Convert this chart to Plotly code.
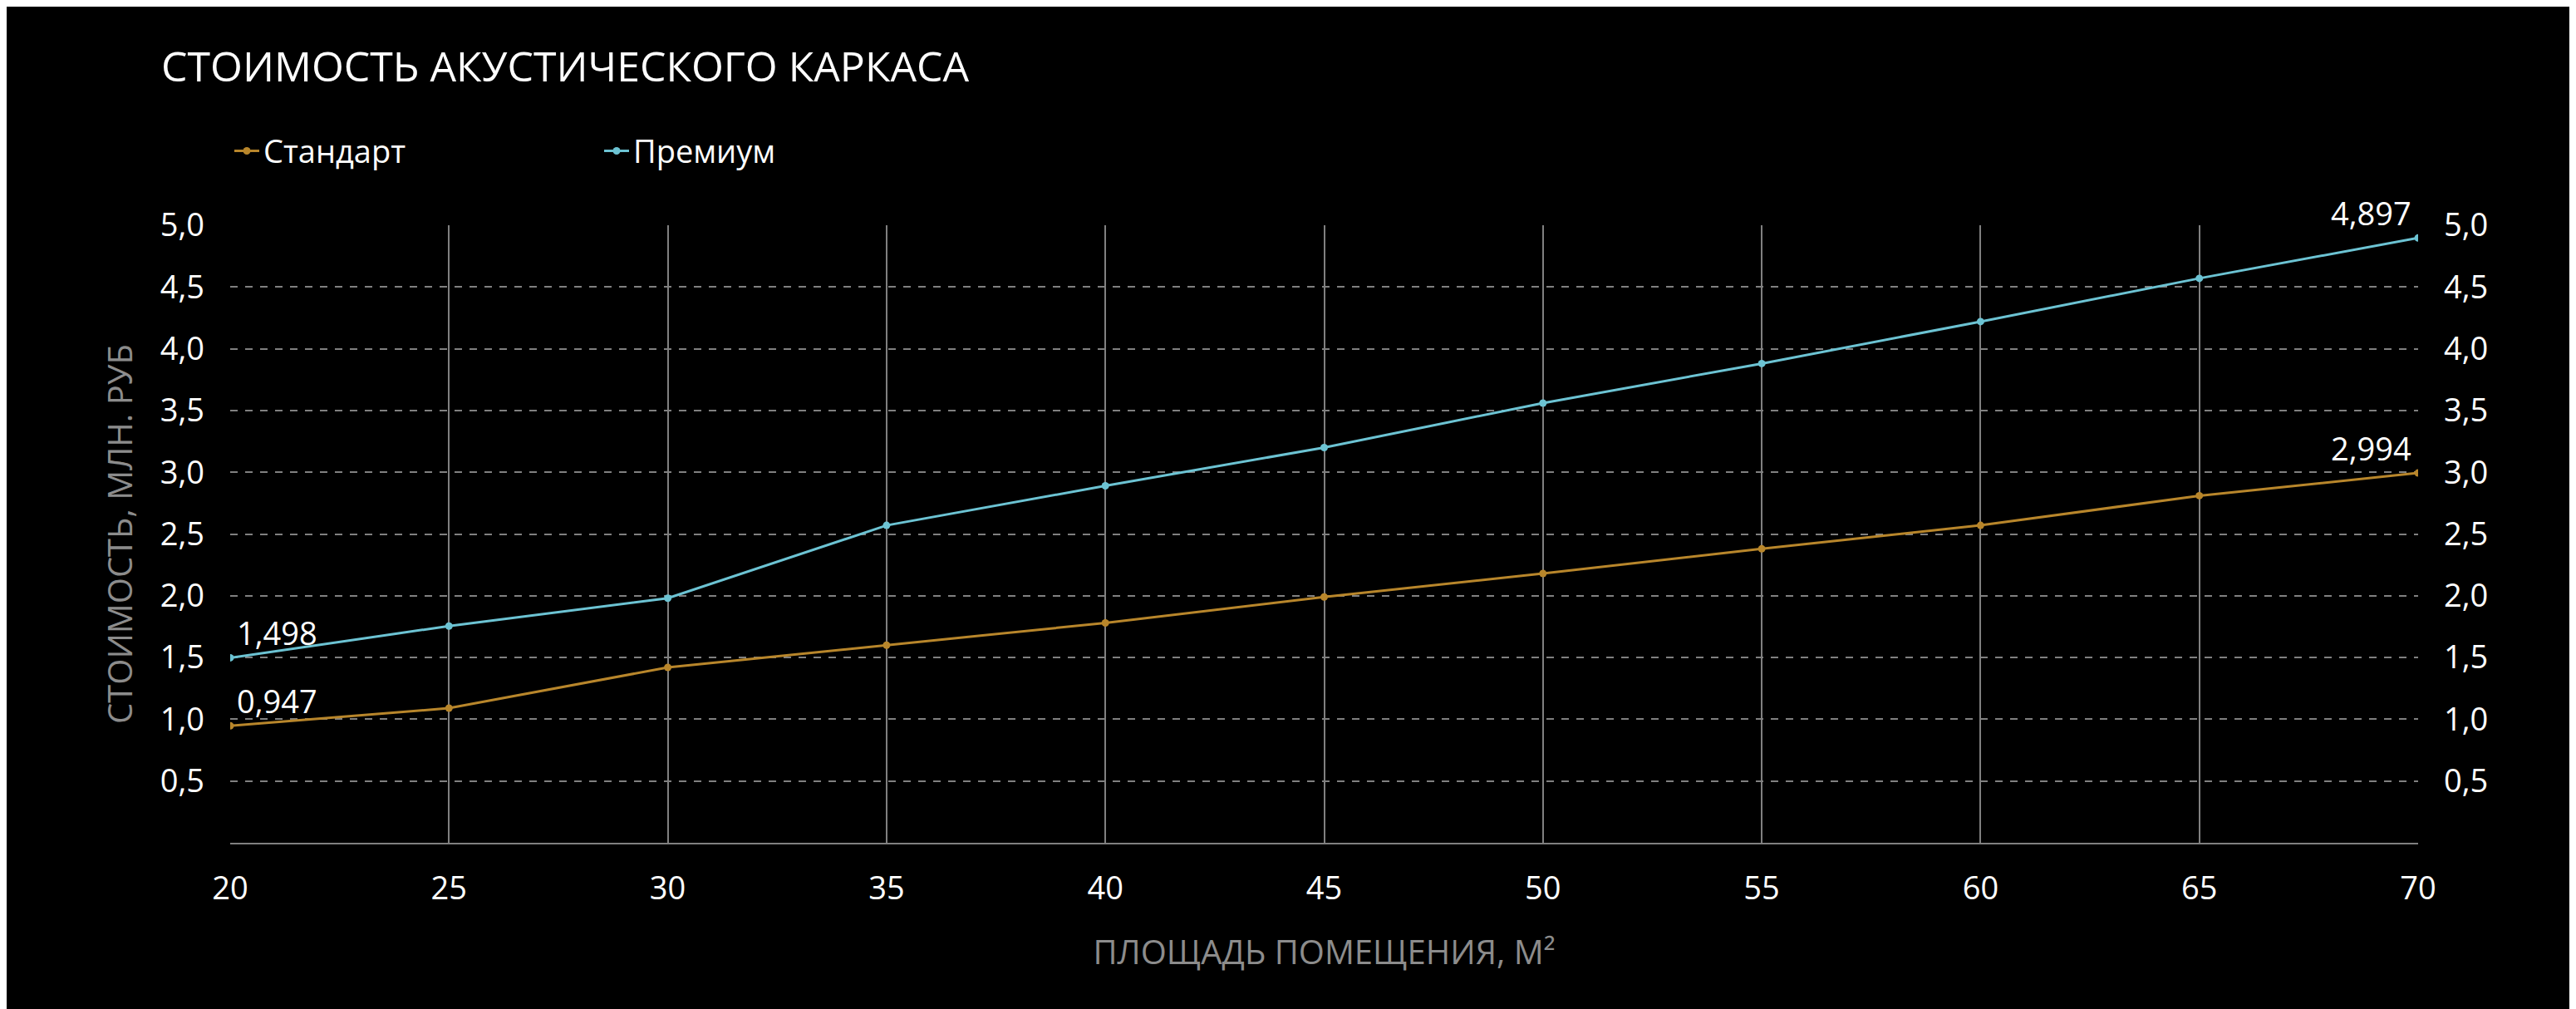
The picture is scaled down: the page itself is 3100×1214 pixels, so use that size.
import plotly.graph_objects as go

area = [20, 25, 30, 35, 40, 45, 50, 55, 60, 65, 70]
standard = [0.947, 1.09, 1.42, 1.60, 1.78, 1.99, 2.18, 2.38, 2.57, 2.81, 2.994]
premium = [1.498, 1.755, 1.98, 2.57, 2.89, 3.20, 3.56, 3.88, 4.22, 4.57, 4.897]
y_ticks = [0.5, 1.0, 1.5, 2.0, 2.5, 3.0, 3.5, 4.0, 4.5, 5.0]

gold = "#b8862b"
cyan = "#6cc3d3"
grid = "#808080"
font = "Open Sans"

fig = go.Figure()
fig.add_trace(go.Scatter(x=area, y=standard, name="Стандарт", mode="lines+markers",
                         line=dict(color=gold, width=3), marker=dict(size=9, color=gold)))
fig.add_trace(go.Scatter(x=area, y=premium, name="Премиум", mode="lines+markers",
                         line=dict(color=cyan, width=3), marker=dict(size=9, color=cyan)))
# invisible trace so the right axis is drawn
fig.add_trace(go.Scatter(x=area, y=premium, yaxis="y2", showlegend=False, hoverinfo="skip",
                         mode="lines", line=dict(color="rgba(0,0,0,0)")))

# value labels at both ends
for series in [standard, premium]:
    for i, xa in [(0, "left"), (-1, "right")]:
        fig.add_annotation(x=area[i], y=series[i], text=f"{series[i]:.3f}".replace(".", ","),
                           showarrow=False, xanchor=xa, yanchor="bottom",
                           xshift=6 if i == 0 else -6, yshift=2,
                           font=dict(color="white", size=38, family=font))

axis_font = dict(color="white", size=38, family=font)
fig.update_layout(
    width=3100, height=1214,
    paper_bgcolor="black", plot_bgcolor="black",
    margin=dict(l=269, r=198, t=263, b=208),
    separators=", ",
    title=dict(text="СТОИМОСТЬ АКУСТИЧЕСКОГО КАРКАСА", x=0.06, xanchor="left", y=0.94, yanchor="middle",
               font=dict(color="white", size=50, family=font)),
    legend=dict(orientation="h", x=0.0, y=1.12, xanchor="left", yanchor="middle",
                font=dict(color="white", size=38, family=font), itemwidth=30,
                entrywidthmode="pixels", entrywidth=400, bgcolor="rgba(0,0,0,0)"),
    xaxis=dict(range=[20, 70], tickvals=area, tickfont=axis_font, showgrid=True,
               gridcolor=grid, gridwidth=2, zeroline=False, showline=True, linecolor=grid,
               linewidth=2, ticks="", ticklabelstandoff=20,
               title=dict(text="ПЛОЩАДЬ ПОМЕЩЕНИЯ, М²", standoff=40,
                          font=dict(color="#8c8c8c", size=40, family=font))),
    yaxis=dict(range=[0, 5.0], tickvals=y_ticks, tickformat=".1f", tickfont=axis_font,
               showgrid=True, gridcolor=grid, gridwidth=2, griddash="dash", zeroline=False,
               ticklabelstandoff=30,
               title=dict(text="СТОИМОСТЬ, МЛН. РУБ", standoff=20,
                          font=dict(color="#8c8c8c", size=40, family=font))),
    yaxis2=dict(range=[0, 5.0], tickvals=y_ticks, tickformat=".1f", tickfont=axis_font,
                overlaying="y", side="right", showgrid=False, zeroline=False,
                ticklabelstandoff=30),
)

fig.write_html("out.html")
